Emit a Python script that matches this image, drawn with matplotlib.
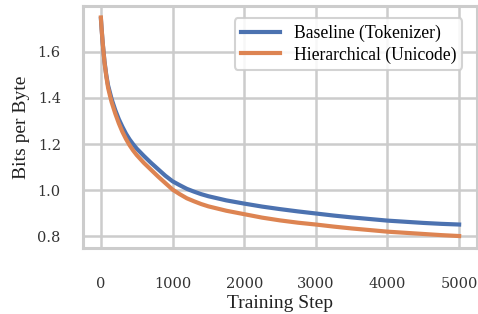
import matplotlib
matplotlib.use("Agg")
import matplotlib.pyplot as plt

# values
steps = [0, 10, 25, 50, 75, 100, 125, 150, 200, 250, 300, 350, 400, 450, 500, 600,
         700, 800, 900, 1000, 1100, 1200, 1300, 1400, 1500, 1750, 2000, 2250, 2500,
         2750, 3000, 3250, 3500, 3750, 4000, 4250, 4500, 4750, 5000]
baseline = [1.745, 1.70, 1.64, 1.56, 1.50, 1.455, 1.425, 1.395, 1.348, 1.308,
            1.275, 1.245, 1.220, 1.199, 1.180, 1.148, 1.118, 1.090, 1.062, 1.038,
            1.021, 1.005, 0.993, 0.982, 0.973, 0.955, 0.941, 0.928, 0.917,
            0.907, 0.898, 0.889, 0.881, 0.874, 0.867, 0.862, 0.857, 0.853, 0.850]
hierarchical = [1.75, 1.70, 1.64, 1.555, 1.495, 1.445, 1.412, 1.382, 1.333, 1.290,
                1.253, 1.222, 1.195, 1.172, 1.152, 1.118, 1.088, 1.058, 1.030, 1.002,
                0.982, 0.964, 0.951, 0.939, 0.929, 0.910, 0.895, 0.880, 0.868,
                0.858, 0.850, 0.841, 0.833, 0.826, 0.819, 0.814, 0.809, 0.804, 0.800]
xticks = [0, 1000, 2000, 3000, 4000, 5000]
yticks = [0.8, 1.0, 1.2, 1.4, 1.6]

plt.rcParams["font.family"] = ["Liberation Serif", "DejaVu Serif"]

fig = plt.figure(figsize=(4.78, 3.14), dpi=100)
ax = fig.add_axes([0.1736, 0.2102, 0.8244, 0.7708])

ax.plot(steps, baseline, color="#4C72B0", lw=3, label="Baseline (Tokenizer)")
ax.plot(steps, hierarchical, color="#DD8452", lw=3, label="Hierarchical (Unicode)")

ax.set_xlim(-250, 5250)
ax.set_ylim(0.748, 1.80)
ax.set_xticks(xticks)
ax.set_yticks(yticks)
ax.set_xticklabels([str(t) for t in xticks], family="DejaVu Serif", fontsize=10.5)
ax.set_yticklabels([f"{t:.1f}" for t in yticks], family="DejaVu Serif", fontsize=10.5)
ax.tick_params(axis="y", length=0, pad=16, colors="#333333")
ax.tick_params(axis="x", length=0, pad=21, colors="#333333")

ax.grid(True, color="#cccccc", lw=1.8)
for s in ax.spines.values():
    s.set_color("#cccccc")
    s.set_linewidth(2.2)
ax.set_axisbelow(True)

ax.set_xlabel("Training Step", fontsize=14, color="#222222", labelpad=3)
ax.set_ylabel("Bits per Byte", fontsize=14, color="#222222", labelpad=5)

leg = ax.legend(loc="upper right", fontsize=12.7, frameon=True, borderpad=0.35,
                handlelength=2.2, handletextpad=0.8, labelspacing=0.25,
                bbox_to_anchor=(0.985, 0.985))
leg.get_frame().set_edgecolor("#cccccc")
leg.get_frame().set_linewidth(1.5)
leg.get_frame().set_alpha(0.85)
for line in leg.get_lines():
    line.set_linewidth(3)

fig.savefig("out.png", dpi=100)
